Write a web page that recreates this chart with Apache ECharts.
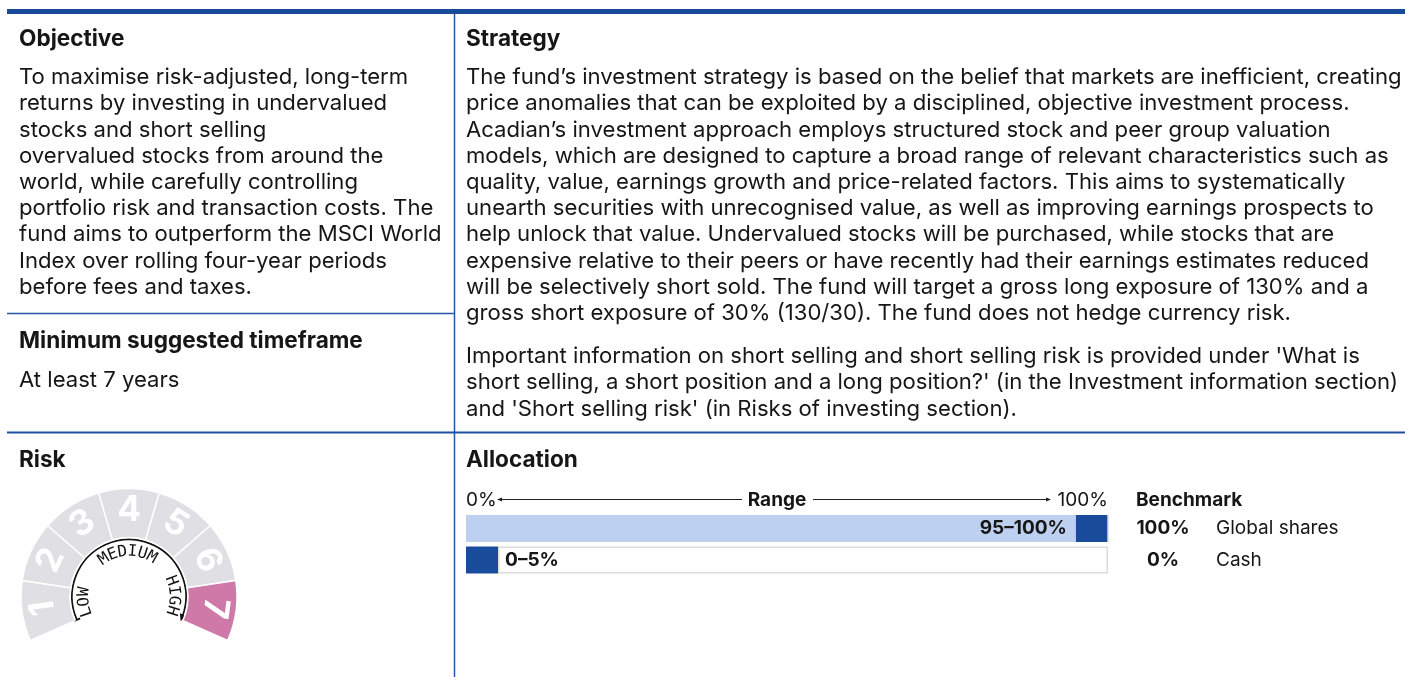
<!DOCTYPE html>
<html>
<head>
<meta charset="utf-8">
<script src="https://cdn.jsdelivr.net/npm/echarts@6/dist/echarts.min.js"></script>
<style>
  html, body { margin: 0; padding: 0; background: #fff; }
  #chart { width: 1405px; height: 677px; }
</style>
</head>
<body>
<div id="chart"></div>
<script>
// ---- data ----
const riskLevels = [1, 2, 3, 4, 5, 6, 7];
const fundRisk = 7;
const riskBands = ['LOW', 'MEDIUM', 'HIGH'];
const riskBandAngles = [186.5, 92, 1.5];

const assetClasses = ['Global shares', 'Cash'];
const rangeLow = [95, 0];
const rangeHigh = [100, 5];
const benchmark = [100, 0];
const rangeTicks = [0, 100];

const objectiveLines = [
  'To maximise risk-adjusted, long-term',
  'returns by investing in undervalued',
  'stocks and short selling',
  'overvalued stocks from around the',
  'world, while carefully controlling',
  'portfolio risk and transaction costs. The',
  'fund aims to outperform the MSCI World',
  'Index over rolling four-year periods',
  'before fees and taxes.'
];
const timeframeLines = ['At least 7 years'];
const strategyLines = [
  'The fund\u2019s investment strategy is based on the belief that markets are inefficient, creating',
  'price anomalies that can be exploited by a disciplined, objective investment process.',
  'Acadian\u2019s investment approach employs structured stock and peer group valuation',
  'models, which are designed to capture a broad range of relevant characteristics such as',
  'quality, value, earnings growth and price-related factors. This aims to systematically',
  'unearth securities with unrecognised value, as well as improving earnings prospects to',
  'help unlock that value. Undervalued stocks will be purchased, while stocks that are',
  'expensive relative to their peers or have recently had their earnings estimates reduced',
  'will be selectively short sold. The fund will target a gross long exposure of 130% and a',
  'gross short exposure of 30% (130/30). The fund does not hedge currency risk.'
];
const shortSellingLines = [
  'Important information on short selling and short selling risk is provided under \'What is',
  'short selling, a short position and a long position?\' (in the Investment information section)',
  'and \'Short selling risk\' (in Risks of investing section).'
];

// ---- style ----
const FONT = 'Inter';
const INK = '#161616';
const BLUE = '#184c9b';
const LIGHT = '#bed0f0';
const GREY = '#e0e0e4';
const PINK = '#cf79a8';
const MID_BIG = 0.25;   // baseline offset used for body / heading text
const MID_SMALL = 0.36; // baseline offset used for the allocation table text

const mctx = document.createElement('canvas').getContext('2d');
function fit(text, weight, target) {
  mctx.font = weight + ' 100px ' + FONT;
  return +(100 * target / mctx.measureText(text).width).toFixed(2);
}
const bodySize = Math.min(fit(objectiveLines[0], 'normal', 401), fit(strategyLines[0], 'normal', 936));
const headSize = fit('Minimum suggested timeframe', 'bold', 344);
const smallSize = fit('Global shares', 'normal', 122.7);
const LH = 26.2;

function block(x, baseline, lines, size, weight, lh, align, mid) {
  lh = lh || size * 1.2;
  align = align || 'left';
  mid = mid == null ? MID_BIG : mid;
  return {
    type: 'text', x: x, y: baseline - mid * size - lh / 2, silent: true,
    style: {
      text: lines.join('\n'), fill: INK, fontFamily: FONT, fontSize: size, fontWeight: weight,
      lineHeight: lh, align: align, verticalAlign: 'top', textAlign: align, textVerticalAlign: 'top'
    }
  };
}

const graphics = [
  { type: 'rect', shape: { x: 7, y: 9, width: 1398, height: 5 }, style: { fill: BLUE }, silent: true },
  { type: 'line', shape: { x1: 454.5, y1: 14, x2: 454.5, y2: 677 }, style: { stroke: '#2457a6', lineWidth: 1.5 }, silent: true },
  { type: 'line', shape: { x1: 7, y1: 313.5, x2: 454, y2: 313.5 }, style: { stroke: '#2457a6', lineWidth: 1.5 }, silent: true },
  { type: 'line', shape: { x1: 7, y1: 432.5, x2: 1405, y2: 432.5 }, style: { stroke: '#1f50a0', lineWidth: 2 }, silent: true },

  block(19, 44.5, ['Objective'], headSize, 'bold'),
  block(466, 44.5, ['Strategy'], headSize, 'bold'),
  block(19, 83, objectiveLines, bodySize, 'normal', LH),
  block(466, 83, strategyLines, bodySize, 'normal', LH),
  block(466, 362, shortSellingLines, bodySize, 'normal', LH),
  block(19, 347.3, ['Minimum suggested timeframe'], headSize, 'bold'),
  block(19, 385.5, timeframeLines, bodySize, 'normal', LH),
  block(19, 465.7, ['Risk'], headSize, 'bold'),
  block(466, 465.7, ['Allocation'], headSize, 'bold'),
  block(1136, 506.7, ['Benchmark'], smallSize, 'bold', null, 'left', MID_SMALL),
  block(777, 506.7, ['Range'], smallSize, 'bold', null, 'center', MID_SMALL),

  // range header rules
  { type: 'line', shape: { x1: 498, y1: 499.5, x2: 742, y2: 499.5 }, style: { stroke: '#222', lineWidth: 1 }, silent: true },
  { type: 'line', shape: { x1: 813, y1: 499.5, x2: 1050, y2: 499.5 }, style: { stroke: '#222', lineWidth: 1 }, silent: true },
  { type: 'polygon', shape: { points: [[497, 499.5], [502, 497.6], [502, 501.4]] }, style: { fill: '#222' }, silent: true },
  { type: 'polygon', shape: { points: [[1051, 499.5], [1046, 497.6], [1046, 501.4]] }, style: { fill: '#222' }, silent: true }
];

// risk dial: arrow arc + curved band words
const CX = 129, CY = 596.6;
const ARC_R = 57, ARC_START = 204, ARC_END = -20.4;
const rad = d => d * Math.PI / 180;
graphics.push({
  type: 'arc', silent: true,
  shape: { cx: CX, cy: CY, r: ARC_R, startAngle: rad(-ARC_START + 360), endAngle: rad(-ARC_END + 360), clockwise: true },
  style: { stroke: '#111', lineWidth: 1.7, fill: null }
});
(function () {
  const s = rad(ARC_START);
  const ux = Math.cos(s), uy = -Math.sin(s);
  graphics.push({ type: 'line', silent: true,
    shape: { x1: CX + (ARC_R - 3.5) * ux, y1: CY + (ARC_R - 3.5) * uy, x2: CX + (ARC_R + 3.5) * ux, y2: CY + (ARC_R + 3.5) * uy },
    style: { stroke: '#111', lineWidth: 1.7 } });
  const e = rad(ARC_END);
  const px = CX + ARC_R * Math.cos(e), py = CY - ARC_R * Math.sin(e);
  const tx = Math.sin(e), ty = Math.cos(e);          // clockwise tangent on screen
  const nx = Math.cos(e), ny = -Math.sin(e);          // radial
  graphics.push({ type: 'polygon', silent: true,
    shape: { points: [[px + 5 * tx, py + 5 * ty], [px - 2 * tx + 3.5 * nx, py - 2 * ty + 3.5 * ny], [px - 2 * tx - 3.5 * nx, py - 2 * ty - 3.5 * ny]] },
    style: { fill: '#111' } });
})();
const WORD_R = 45, CHAR_STEP = 12.8;
riskBands.forEach((word, w) => {
  const chars = word.split('');
  chars.forEach((ch, k) => {
    const a = riskBandAngles[w] + ((chars.length - 1) / 2 - k) * CHAR_STEP;
    graphics.push({
      type: 'text', silent: true,
      x: CX + WORD_R * Math.cos(rad(a)), y: CY - WORD_R * Math.sin(rad(a)), rotation: rad(a - 90),
      style: { text: ch, fill: '#111', fontFamily: 'DejaVu Sans Mono', fontSize: 16,
        align: 'center', verticalAlign: 'middle', textAlign: 'center', textVerticalAlign: 'middle' }
    });
  });
});

// ---- chart ----
const chart = echarts.init(document.getElementById('chart'), null, { renderer: 'canvas' });
const smallMid = 506.7 - MID_SMALL * smallSize;
const GRID_TOP = 512.75;
const PIE_START = 204, PIE_END = -24;
const sweep = (PIE_START - PIE_END) / riskLevels.length;

const labelText = { fontFamily: FONT, fontSize: smallSize, color: INK };

chart.setOption({
  animation: false,
  grid: { left: 466, top: GRID_TOP, width: 642, height: 63, containLabel: false },
  xAxis: {
    type: 'value', min: 0, max: 100, interval: 100, position: 'top',
    axisLine: { show: false }, axisTick: { show: false }, splitLine: { show: false },
    axisLabel: Object.assign({
      formatter: v => rangeTicks.indexOf(v) >= 0 ? v + '%' : '',
      margin: GRID_TOP - smallMid, verticalAlign: 'middle',
      alignMinLabel: 'left', alignMaxLabel: 'right'
    }, labelText)
  },
  yAxis: {
    type: 'category', data: assetClasses, inverse: true, position: 'right',
    axisLine: { show: false }, axisTick: { show: false }, splitLine: { show: false },
    axisLabel: {
      margin: 28, align: 'left',
      formatter: (v, i) => '{v|' + benchmark[i] + '%}{n|' + v + '}',
      rich: {
        v: Object.assign({ width: 54, align: 'right', fontWeight: 'bold' }, labelText),
        n: Object.assign({ padding: [0, 0, 0, 26] }, labelText)
      }
    }
  },
  series: [
    {
      type: 'bar', stack: 'range', barWidth: 27, silent: true,
      data: rangeLow.map((lo, i) => ({
        value: lo,
        itemStyle: { color: LIGHT },
        label: {
          show: lo > 0, position: 'insideRight', distance: 9, fontWeight: 'bold',
          fontFamily: FONT, fontSize: smallSize, color: INK,
          formatter: rangeLow[i] + '\u2013' + rangeHigh[i] + '%'
        }
      }))
    },
    {
      type: 'bar', stack: 'range', barWidth: 27, silent: true,
      itemStyle: { color: BLUE },
      data: rangeHigh.map((hi, i) => hi - rangeLow[i])
    },
    {
      type: 'bar', stack: 'range', barWidth: 27, silent: true,
      data: rangeHigh.map((hi, i) => ({
        value: 100 - hi,
        itemStyle: { color: '#fff', borderColor: '#dcdcdc', borderWidth: 1.5 },
        label: {
          show: rangeLow[i] === 0, position: 'insideLeft', distance: 7, fontWeight: 'bold',
          fontFamily: FONT, fontSize: smallSize, color: INK,
          formatter: rangeLow[i] + '\u2013' + rangeHigh[i] + '%'
        }
      }))
    },
    {
      type: 'pie', silent: true, center: [CX, CY], radius: [59, 108],
      startAngle: PIE_START, endAngle: PIE_END, clockwise: true, avoidLabelOverlap: false,
      itemStyle: { borderColor: '#fff', borderWidth: 1.5 },
      label: { position: 'inside', color: '#fff', fontFamily: FONT, fontWeight: 'bold', fontSize: 35 },
      labelLine: { show: false },
      data: riskLevels.map((lv, i) => ({
        name: String(lv), value: 1,
        itemStyle: { color: lv === fundRisk ? PINK : GREY },
        label: { rotate: PIE_START - (i + 0.5) * sweep - 90 }
      }))
    }
  ],
  graphic: { elements: graphics }
});
</script>
</body>
</html>
